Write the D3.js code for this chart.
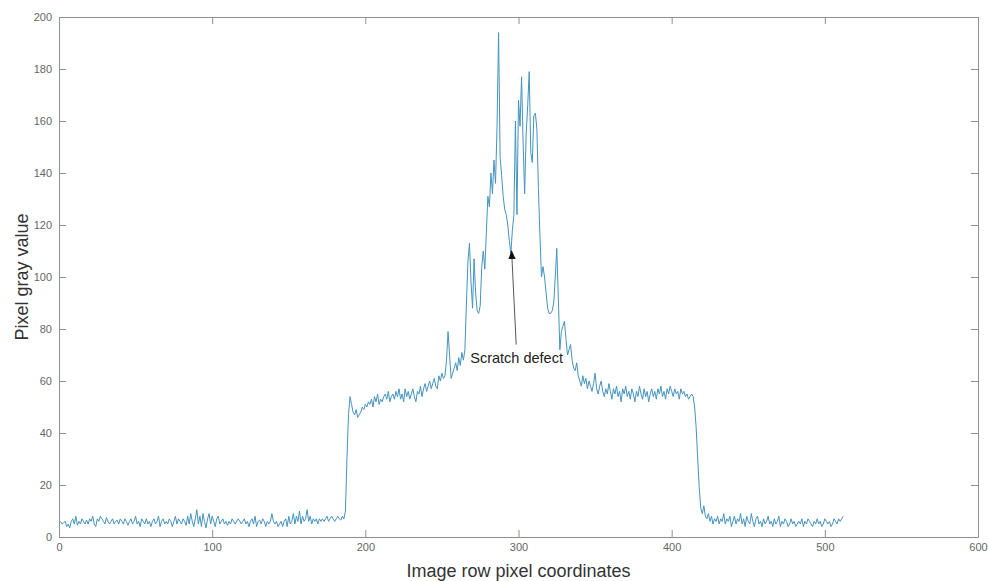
<!DOCTYPE html>
<html>
<head>
<meta charset="utf-8">
<script src="https://cdn.jsdelivr.net/npm/d3@7"></script>
<style>
    body { margin: 0; background: #fff; }
    svg { display: block; font-family: "Liberation Sans", Arial, Helvetica, sans-serif; }
</style>
</head>
<body>
<svg id="chart"></svg>
<script>
"use strict";

// gray values along the image row, split by region (x runs 1..512)
var leftFloor = [
    6,5,5.5,6,4,5,3.5,6,7,5,8,4.5,6,5,7,6,5,6.5,5,7,
    6,8,5,4,7,6,8,7,6,5,7.5,6,5,6,7,5,6,6.5,5,7,
    6,5,7,6,4.5,6,7,5,6,8,5,6,4,7,6,5,7,5,6,4,
    6,7,5,6,8,4,6,7,5,6,5,7,6,4,6,8,5,7,6,5,
    7,6,4.5,8,5,9,6,4,7,10.5,5,8,4,9,6,3.5,7,9,5,8,
    6,4,7,8,5,6,7,5,6,4.5,6,5,7,6,5,6,7,6,5,6,
    7,5,6,4,6,7,5,8,4,6,6.5,5,7,6,4,6,5,6,9,6,
    5,6,4,5,6,4,6,7,4,8,5,6,9,5,8,6,10,5,8,6,
    7,10.5,6,8,5,7,6,7,5,7,6,7,6,7,8,6,7,8,7,6,
    7,8,7,6.5,8,7
];
var leftPlateau = [
    10,30,47,54,51,48,47,49,46,47,48,50,49,51,
    50,52,51,53,50,54,52,55,51,53,52,54,55,53,56,52,54,55,53,56,
    54,57,53,55,52,57,54,56,53,55,57,54,52,56,55,58,54,57,59,56,
    58,60,57,59,61,58,57,62,60,63,61
];
var defectPeak = [
    62,68,79,70,61,63,65,67,64,69,66,71,68,72,90,106,113,98,88,107,
    94,87,86,89,104,110,103,117,131,127,140,132,145,136,158,194,146,139,131,126,
    124,120,114,109,118,124,160,124,168,158,177,152,132,155,166,179,148,144,162,163,
    157,134,116,100,104,100,94,88,86,86,87,90,100,111,92,72,79,81,83,76,
    70,72,74,68,65
];
var rightPlateau = [
    64,67,62,60,58,62,59,61,57,60,58,56,59,63,
    57,55,58,60,56,54,57,55,59,56,53,57,55,58,54,56,52,57,55,58,
    54,56,53,57,55,52,56,54,58,55,53,57,54,56,52,55,57,54,56,53,
    57,55,58,54,56,53,57,55,58,56,54,57,55,56,53,57,55,56,54,55,53,54
];
var rightDrop = [55,54,50,42,30,19,11,9,12,8];
var rightFloor = [
    7,9,6,8,5,7,6,8,5,7,6,9,5,7,6,8,4,6,8,5,
    7,6,9,5,7,4,8,6,5,9,6,4,7,8,5,6,4,7,5,6,
    8,5,6,4,7,5,6,8,4,6,5,7,6,4,5,7,5,6,4,5,
    6,5,7,4,6,5,7,6,5,4,6,5,7,5,6,4,5,7,6,5,
    6,4,5,7,6,5,7,6,7,8
];

var xTicks = [0, 100, 200, 300, 400, 500, 600];
var yTicks = [0, 20, 40, 60, 80, 100, 120, 140, 160, 180, 200];

// annotation: [x, y] in data units
var arrowTail = [298.5, 74];
var arrowTip = [295.5, 110];
var noteText = "Scratch defect";
var notePos = [268.5, 67];

var grayValues = leftFloor.concat(leftPlateau, defectPeak, rightPlateau, rightDrop, rightFloor);
var data = grayValues.map((v, i) => ({x: i + 1, y: v}));

var width = 989, height = 581;
var margin = {top: 17, right: 11, bottom: 44, left: 59};

var svg = d3.select("#chart")
    .attr("width", width)
    .attr("height", height);

var xScale = d3.scaleLinear()
    .domain([0, 600])
    .range([margin.left, width - margin.right]);
var yScale = d3.scaleLinear()
    .domain([0, 200])
    .range([height - margin.bottom, margin.top]);

var axisColor = "#8f8f8f";
var labelColor = "#666";
var tickLen = 7;

// bottom and left axes with labels, ticks point inward
var xAxis = svg.append("g")
    .attr("transform", "translate(0," + (height - margin.bottom) + ")")
    .call(d3.axisBottom(xScale).tickValues(xTicks).tickSizeInner(-tickLen).tickSizeOuter(0).tickPadding(6));
var yAxis = svg.append("g")
    .attr("transform", "translate(" + margin.left + ",0)")
    .call(d3.axisLeft(yScale).tickValues(yTicks).tickSizeInner(-tickLen).tickSizeOuter(0).tickPadding(7));

// top and right: ticks only
var xTop = svg.append("g")
    .attr("transform", "translate(0," + margin.top + ")")
    .call(d3.axisTop(xScale).tickValues(xTicks).tickSizeInner(-tickLen).tickSizeOuter(0).tickFormat(""));
var yRight = svg.append("g")
    .attr("transform", "translate(" + (width - margin.right) + ",0)")
    .call(d3.axisRight(yScale).tickValues(yTicks).tickSizeInner(-tickLen).tickSizeOuter(0).tickFormat(""));

[xAxis, yAxis, xTop, yRight].forEach(function(g) {
    g.select(".domain").attr("stroke", axisColor);
    g.selectAll(".tick line").attr("stroke", axisColor);
    g.selectAll(".tick text").attr("fill", labelColor).style("font-size", "11px");
});

// the series
var line = d3.line()
    .x(d => xScale(d.x))
    .y(d => yScale(d.y));

svg.append("path")
    .datum(data)
    .attr("d", line)
    .attr("fill", "none")
    .attr("stroke", "#4593c0")
    .attr("stroke-width", 1)
    .attr("stroke-linejoin", "round");

// annotation arrow
svg.append("defs").append("marker")
    .attr("id", "head")
    .attr("viewBox", "0 0 10 10")
    .attr("refX", 9)
    .attr("refY", 5)
    .attr("markerWidth", 9)
    .attr("markerHeight", 9)
    .attr("orient", "auto")
    .append("path")
    .attr("d", "M0,1 L10,5 L0,9 Z")
    .attr("fill", "#111");

svg.append("line")
    .attr("x1", xScale(arrowTail[0]))
    .attr("y1", yScale(arrowTail[1]))
    .attr("x2", xScale(arrowTip[0]))
    .attr("y2", yScale(arrowTip[1]))
    .attr("stroke", "#555")
    .attr("stroke-width", 1)
    .attr("marker-end", "url(#head)");

svg.append("text")
    .attr("x", xScale(notePos[0]))
    .attr("y", yScale(notePos[1]))
    .attr("fill", "#222")
    .style("font-size", "14.5px")
    .text(noteText);

// axis titles
svg.append("text")
    .attr("x", (margin.left + width - margin.right) / 2)
    .attr("y", 577)
    .attr("text-anchor", "middle")
    .attr("fill", "#333")
    .style("font-size", "18px")
    .text("Image row pixel coordinates");

svg.append("text")
    .attr("transform", "translate(28," + ((margin.top + height - margin.bottom) / 2) + ") rotate(-90)")
    .attr("text-anchor", "middle")
    .attr("fill", "#333")
    .style("font-size", "18px")
    .text("Pixel gray value");
</script>
</body>
</html>
